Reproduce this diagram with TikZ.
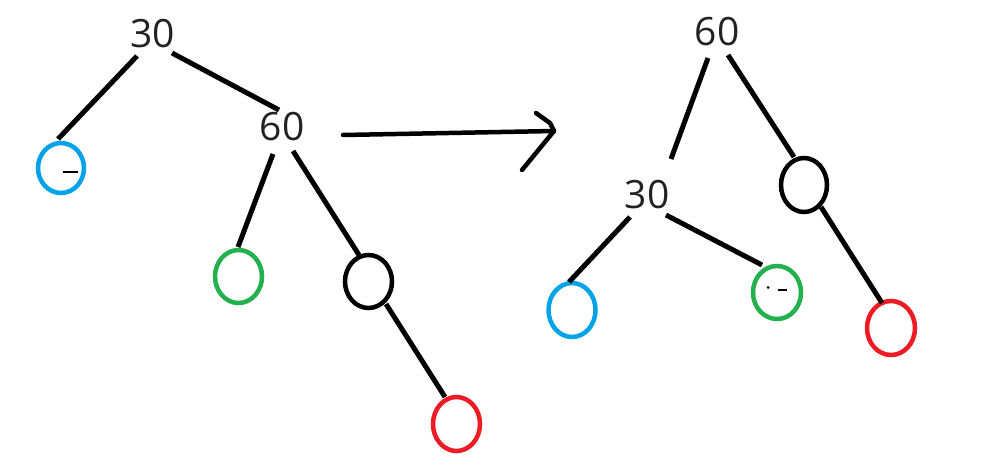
\documentclass[tikz,border=0pt]{standalone}
\usepackage{fontspec}
\setmainfont{Open Sans}
\usetikzlibrary{shapes.geometric,calc}
\definecolor{pblue}{HTML}{00A2E8}
\definecolor{pgreen}{HTML}{22B14C}
\definecolor{pred}{HTML}{ED1C24}
\definecolor{ptext}{HTML}{222222}
\begin{document}
\begin{tikzpicture}[x=1pt,y=-1pt,
  numtext/.style={inner sep=0pt,text=ptext,font=\fontsize{39}{39}\selectfont},
  leaf/.style={ellipse,draw,line width=4.5pt,inner sep=0pt,minimum width=#1},
  edge/.style={line width=5pt,black},
  speck/.style={line width=1.8pt,black}]
\useasboundingbox (0,0) rectangle (981,474);
% left tree
\node[numtext] (L30) at (152.5,33.5) {30};
\node[numtext] (L60) at (282,127) {60};
\node[leaf=46pt,pblue,minimum height=50pt] (LB) at (61,168) {};
\node[leaf=47pt,pgreen,minimum height=53pt] (LG) at (238.5,276.5) {};
\node[leaf=47pt,black,minimum height=53pt] (LK) at (368.5,281.5) {};
\node[leaf=47pt,pred,minimum height=54pt] (LR) at (456.5,424) {};
\draw[edge] ($(L30)+(-15.5,22.5)$) -- ($(LB)+(-3,-29)$);
\draw[edge] ($(L30)+(19.5,19.5)$) -- ($(L60)+(-3,-17)$);
\draw[edge] ($(L60)+(-9,27)$) -- ($(LG)+(-0.5,-29.5)$);
\draw[edge] ($(L60)+(11,24)$) -- ($(LK)+(-9.5,-26.5)$);
\draw[edge] ($(LK)+(17.5,22.5)$) -- ($(LR)+(-11.5,-27)$);
\draw[speck] ($(LB)+(2,4)$) -- ($(LB)+(17,4)$);
% arrow
\coordinate (A0) at (343,135);
\coordinate (A1) at (554,131);
\coordinate (AU) at (536,113);
\coordinate (AM) at (550,123);
\coordinate (AL) at (522,170);
\draw[line width=4.5pt,line cap=round,line join=round] (A0) -- (A1);
\draw[line width=4.5pt,line cap=round,line join=round] (AU) -- (AM) -- (A1) -- (AL);
% right tree
\node[numtext] (R60) at (717,32) {60};
\node[numtext] (R30) at (647,195) {30};
\node[leaf=46pt,black,minimum height=54pt] (RK) at (804,185) {};
\node[leaf=47pt,pblue,minimum height=54pt] (RB) at (572,310) {};
\node[leaf=48pt,pgreen,minimum height=53pt] (RG) at (777,292.5) {};
\node[leaf=48pt,pred,minimum height=54pt] (RR) at (891,328) {};
\draw[edge] ($(R60)+(-9,26)$) -- ($(R30)+(24,-36)$);
\draw[edge] ($(R60)+(11,23)$) -- ($(RK)+(-10,-28)$);
\draw[edge] ($(R30)+(-17,22)$) -- ($(RB)+(-3,-28)$);
\draw[edge] ($(R30)+(19,20)$) -- ($(RG)+(-15,-27.5)$);
\draw[edge] ($(RK)+(17,22)$) -- ($(RR)+(-9,-25)$);
\draw[speck] ($(RG)+(1,-2.5)$) -- ($(RG)+(10,-2.5)$);
\fill[black] ($(RG)+(-9,-5)$) circle (1.5pt);
\end{tikzpicture}
\end{document}
